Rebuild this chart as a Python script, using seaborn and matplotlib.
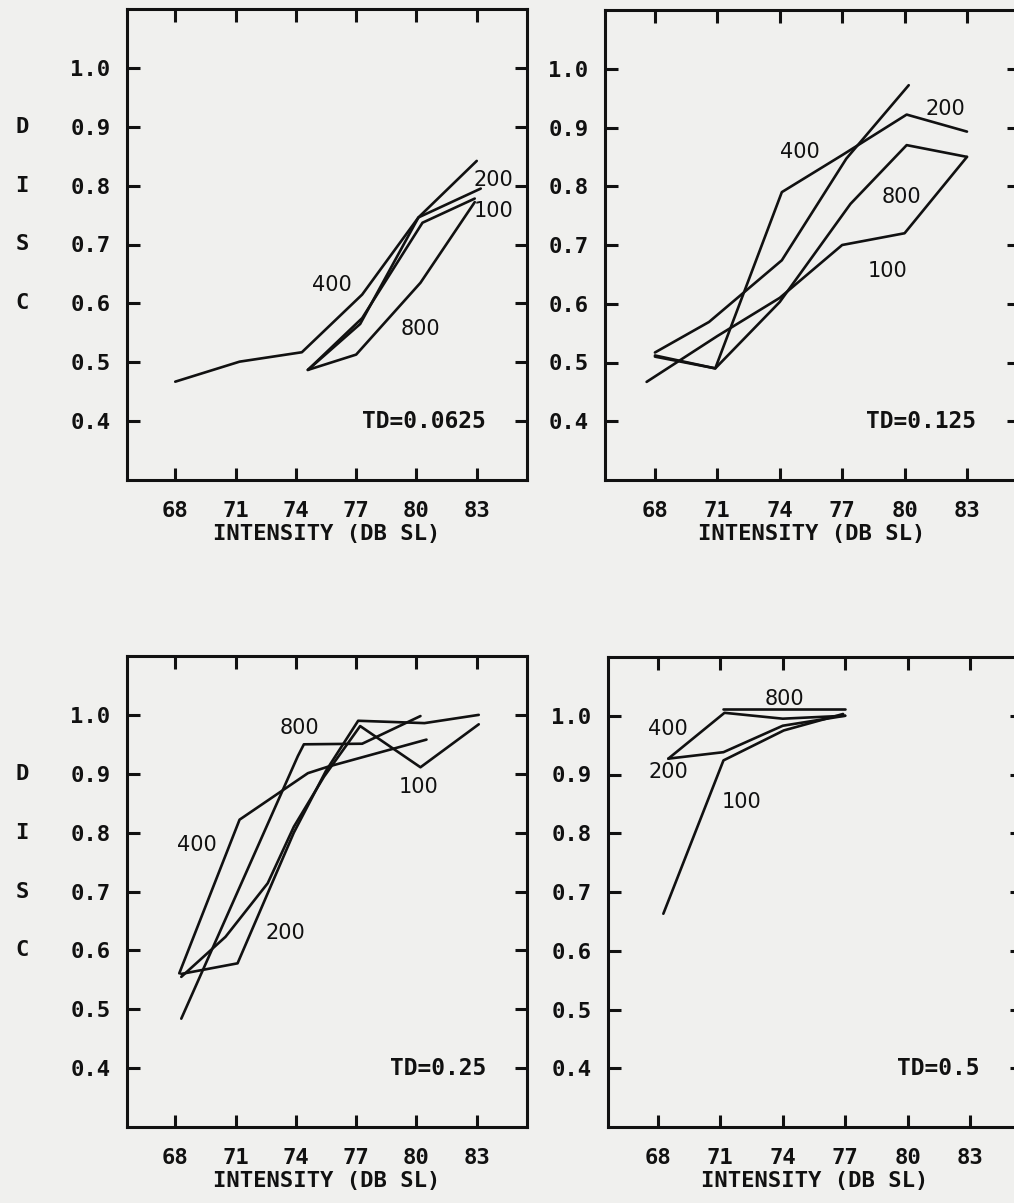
import matplotlib
matplotlib.use("Agg")
import matplotlib.pyplot as plt
import matplotlib.transforms as mtransforms
from matplotlib.ticker import FormatStrFormatter
import pandas as pd
import seaborn as sns

# ---- intensity ticks / y ticks -------------------------------------------
x_ticks = [68, 71, 74, 77, 80, 83]
y_ticks = [0.4, 0.5, 0.6, 0.7, 0.8, 0.9, 1.0]
series_names = ["100", "200", "400", "800"]

# ---- TD = 0.0625 ----------------------------------------------------------
td0625_100_x = [74.6, 77.3, 80.3, 82.9]
td0625_100_y = [0.487, 0.575, 0.737, 0.778]
td0625_200_x = [74.6, 77.2, 80.1, 83.2]
td0625_200_y = [0.487, 0.565, 0.746, 0.795]
td0625_400_x = [68.0, 71.2, 74.3, 77.3, 80.1, 83.0]
td0625_400_y = [0.467, 0.501, 0.517, 0.615, 0.746, 0.842]
td0625_800_x = [74.6, 77.0, 80.2, 82.9]
td0625_800_y = [0.487, 0.513, 0.635, 0.772]

# ---- TD = 0.125 -----------------------------------------------------------
td125_100_x = [67.6, 71.0, 74.0, 77.0, 80.0, 83.0]
td125_100_y = [0.467, 0.545, 0.610, 0.700, 0.720, 0.850]
td125_200_x = [68.0, 70.6, 74.1, 77.2, 80.2]
td125_200_y = [0.517, 0.569, 0.674, 0.847, 0.972]
td125_400_x = [68.0, 70.9, 74.1, 77.0, 80.1, 83.0]
td125_400_y = [0.512, 0.490, 0.790, 0.853, 0.922, 0.893]
td125_800_x = [68.0, 70.9, 74.0, 77.4, 80.1, 83.0]
td125_800_y = [0.510, 0.490, 0.603, 0.770, 0.870, 0.850]

# ---- TD = 0.25 ------------------------------------------------------------
td25_100_x = [68.3, 70.5, 72.6, 73.9, 75.4, 77.2, 80.2, 83.1]
td25_100_y = [0.555, 0.623, 0.714, 0.810, 0.895, 0.981, 0.911, 0.984]
td25_200_x = [68.3, 71.1, 73.9, 75.5, 77.1, 80.4, 83.1]
td25_200_y = [0.560, 0.578, 0.800, 0.905, 0.990, 0.986, 1.000]
td25_400_x = [68.2, 71.2, 74.6, 75.6, 80.5]
td25_400_y = [0.561, 0.822, 0.901, 0.912, 0.958]
td25_800_x = [68.3, 74.1, 74.4, 77.3, 80.2]
td25_800_y = [0.484, 0.930, 0.950, 0.951, 0.998]

# ---- TD = 0.5 -------------------------------------------------------------
td5_100_x = [68.26, 71.15, 74.05, 76.9]
td5_100_y = [0.663, 0.924, 0.975, 1.003]
td5_200_x = [68.5, 71.15, 74.0, 77.0]
td5_200_y = [0.927, 0.938, 0.983, 1.000]
td5_400_x = [68.5, 71.2, 74.0, 77.0]
td5_400_y = [0.927, 1.005, 0.995, 1.000]
td5_800_x = [71.15, 77.0]
td5_800_y = [1.012, 1.012]

# ---- curve labels (name, x, y) --------------------------------------------
td0625_labels = [("400", 75.8, 0.632), ("800", 80.2, 0.556),
                 ("200", 83.85, 0.809), ("100", 83.85, 0.757)]
td125_labels = [("400", 74.95, 0.859), ("200", 81.94, 0.932),
                ("800", 79.87, 0.782), ("100", 79.2, 0.656)]
td25_labels = [("800", 74.2, 0.977), ("400", 69.1, 0.779),
               ("200", 73.5, 0.629), ("100", 80.1, 0.878)]
td5_labels = [("800", 74.1, 1.029), ("400", 68.5, 0.978),
              ("200", 68.5, 0.904), ("100", 72.0, 0.853)]

panel_titles = ["TD=0.0625", "TD=0.125", "TD=0.25", "TD=0.5"]

PAPER = "#f0f0ee"
INK = "#111111"
MONO = ["DejaVu Sans Mono", "DejaVu Sans"]
SANS = ["DejaVu Sans"]

sns.set_theme(style="ticks")
plt.rcParams.update({
    "font.family": MONO,
    "font.weight": "bold",
    "axes.edgecolor": INK,
    "axes.linewidth": 2.2,
    "xtick.color": INK,
    "ytick.color": INK,
    "text.color": INK,
    "axes.labelcolor": INK,
})

W, H = 1014, 1203
fig = plt.figure(figsize=(W / 100, H / 100), dpi=100, facecolor=PAPER)


def add_axes(left, top, right, bottom):
    return fig.add_axes([left / W, 1 - bottom / H, (right - left) / W, (bottom - top) / H])


def frame(series_x, series_y):
    rows = []
    for name, xs, ys in zip(series_names, series_x, series_y):
        for xv, yv in zip(xs, ys):
            rows.append({"series": name, "intensity": xv, "disc": yv})
    return pd.DataFrame(rows)


panels = [
    (add_axes(127, 9, 527, 480),
     [td0625_100_x, td0625_200_x, td0625_400_x, td0625_800_x],
     [td0625_100_y, td0625_200_y, td0625_400_y, td0625_800_y],
     td0625_labels, True),
    (add_axes(605, 10, 1019, 480),
     [td125_100_x, td125_200_x, td125_400_x, td125_800_x],
     [td125_100_y, td125_200_y, td125_400_y, td125_800_y],
     td125_labels, False),
    (add_axes(127, 656, 527, 1127),
     [td25_100_x, td25_200_x, td25_400_x, td25_800_x],
     [td25_100_y, td25_200_y, td25_400_y, td25_800_y],
     td25_labels, True),
    (add_axes(608, 657, 1022, 1127),
     [td5_100_x, td5_200_x, td5_400_x, td5_800_x],
     [td5_100_y, td5_200_y, td5_400_y, td5_800_y],
     td5_labels, False),
]

for (ax, sx, sy, labels, first_col), title in zip(panels, panel_titles):
    ax.set_facecolor(PAPER)
    df = frame(sx, sy)
    sns.lineplot(data=df, x="intensity", y="disc", units="series",
                 estimator=None, sort=False, color=INK, linewidth=1.9, ax=ax)
    ax.set_xlim(65.6, 85.5)
    ax.set_ylim(0.3, 1.1)
    ax.set_xticks(x_ticks)
    ax.set_yticks(y_ticks)
    ax.yaxis.set_major_formatter(FormatStrFormatter("%.1f"))
    ax.tick_params(direction="in", top=True, right=True, length=9, width=2.2,
                   labelsize=16, pad=12)
    ax.tick_params(axis="x", pad=15)
    for spine in ax.spines.values():
        spine.set_visible(True)
    ax.set_xlabel("INTENSITY (DB SL)", fontsize=16, fontweight="bold", labelpad=2)
    ax.set_ylabel("")

    for name, lx, ly in labels:
        ax.text(lx, ly, name, ha="center", va="center", fontsize=15,
                fontweight="normal", family=SANS, color=INK)
    ax.text(83.45, 0.40, title, ha="right", va="center", fontsize=16.5,
            fontweight="bold", color=INK)

    if first_col:
        tr = mtransforms.blended_transform_factory(ax.transAxes, ax.transData)
        for letter, yv in zip("DISC", [0.9, 0.8, 0.7, 0.6]):
            ax.text(-0.262, yv, letter, transform=tr, ha="center", va="center",
                    fontsize=16, fontweight="bold", color=INK)

fig.savefig("out.png", dpi=100, facecolor=PAPER)
